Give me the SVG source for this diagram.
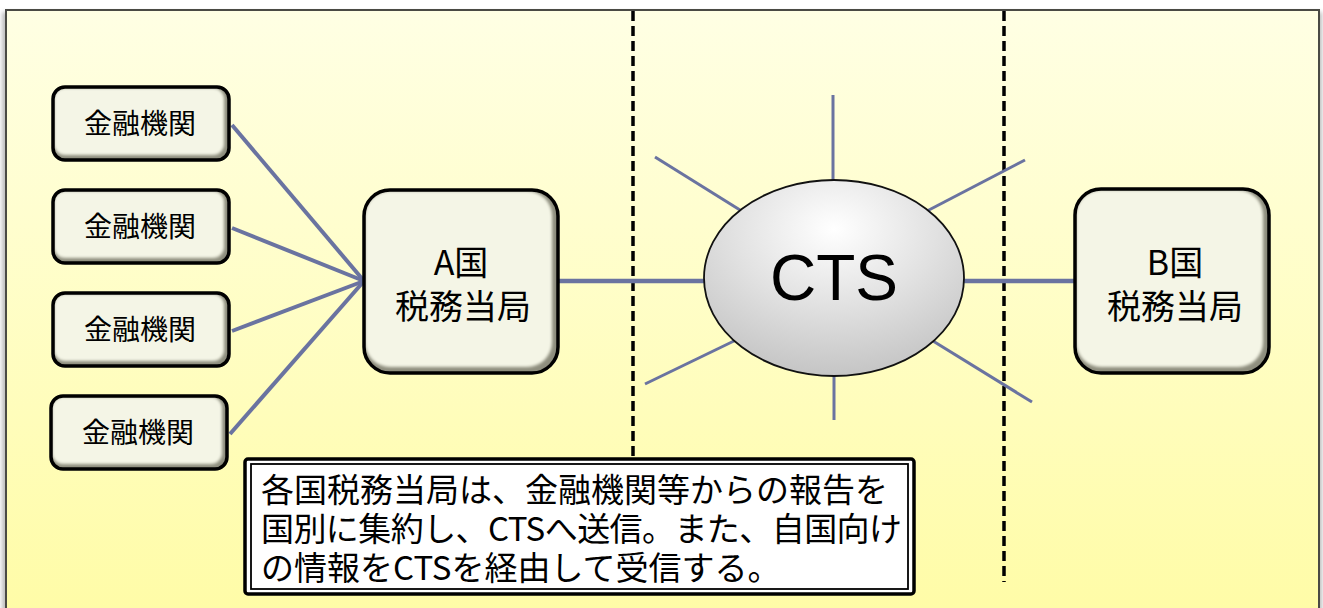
<svg xmlns="http://www.w3.org/2000/svg" width="1323" height="608" viewBox="0 0 1323 608">
  <defs>
    <linearGradient id="bg" x1="0" y1="0" x2="0" y2="1">
      <stop offset="0" stop-color="#FFFFE4"/>
      <stop offset="1" stop-color="#FFFCA6"/>
    </linearGradient>
    <radialGradient id="ell" cx="0.5" cy="0.25" r="0.85">
      <stop offset="0" stop-color="#FFFFFF"/>
      <stop offset="0.45" stop-color="#E2E2E2"/>
      <stop offset="1" stop-color="#BDBDBD"/>
    </radialGradient>
    <filter id="soft" x="-10%" y="-10%" width="120%" height="120%">
      <feGaussianBlur stdDeviation="1.6"/>
    </filter>
    <filter id="fshadow" x="-5%" y="-5%" width="110%" height="110%">
      <feGaussianBlur stdDeviation="2"/>
    </filter>
    <style>
      .box-shade { fill: #8E8E7E; }
      .box-face { fill: #F4F5E6; filter: url(#soft); }
      .box-line { fill: none; stroke: #000; stroke-width: 3.5; }
      .jp { font-family: "Noto Sans CJK JP", "Noto Sans", sans-serif; fill: #000; text-anchor: middle; }
      .conn { stroke: #6A73A0; fill: none; }
      .dash { stroke: #000; stroke-width: 3.5; stroke-dasharray: 10 5; fill: none; }
    </style>
  </defs>

  <!-- background frame -->
  <rect x="2" y="12" width="1320" height="610" fill="#BDBDBD" filter="url(#fshadow)"/>
  <rect x="6" y="10" width="1313" height="610" fill="url(#bg)" stroke="#4A4A44" stroke-width="2"/>

  <!-- dashed separators -->
  <g id="separators">
    <line class="dash" x1="633" y1="11" x2="633" y2="458"/>
    <line class="dash" x1="1004" y1="11" x2="1004" y2="582"/>
  </g>

  <!-- connectors -->
  <g id="connectors">
    <line class="conn" stroke-width="4" x1="232" y1="125" x2="364" y2="281"/>
    <line class="conn" stroke-width="4" x1="232" y1="228" x2="364" y2="281"/>
    <line class="conn" stroke-width="4" x1="232" y1="331" x2="364" y2="281"/>
    <line class="conn" stroke-width="4" x1="230" y1="434" x2="364" y2="281"/>
    <line class="conn" stroke-width="4.5" x1="558" y1="281" x2="706" y2="281"/>
    <line class="conn" stroke-width="4.5" x1="962" y1="281" x2="1075" y2="281"/>
    <line class="conn" stroke-width="3" x1="833" y1="95" x2="833" y2="180"/>
    <line class="conn" stroke-width="3" x1="834" y1="376" x2="834" y2="420"/>
    <line class="conn" stroke-width="3" x1="655" y1="157" x2="740" y2="210"/>
    <line class="conn" stroke-width="3" x1="1025" y1="160" x2="927" y2="211"/>
    <line class="conn" stroke-width="3" x1="645" y1="384" x2="736" y2="340"/>
    <line class="conn" stroke-width="3" x1="1032" y1="402" x2="933" y2="341"/>
  </g>

  <!-- financial institutions -->
  <g id="fi1">
    <rect class="box-shade" x="53" y="87" width="176" height="73" rx="12"/>
    <rect class="box-face" x="54" y="88" width="170" height="67" rx="11"/>
    <rect class="box-line" x="53" y="87" width="176" height="73" rx="12"/>
    <text class="jp" x="140" y="134" font-size="28">金融機関</text>
  </g>
  <g id="fi2">
    <rect class="box-shade" x="53" y="190" width="176" height="73" rx="12"/>
    <rect class="box-face" x="54" y="191" width="170" height="67" rx="11"/>
    <rect class="box-line" x="53" y="190" width="176" height="73" rx="12"/>
    <text class="jp" x="140" y="237" font-size="28">金融機関</text>
  </g>
  <g id="fi3">
    <rect class="box-shade" x="53" y="293" width="176" height="73" rx="12"/>
    <rect class="box-face" x="54" y="294" width="170" height="67" rx="11"/>
    <rect class="box-line" x="53" y="293" width="176" height="73" rx="12"/>
    <text class="jp" x="140" y="340" font-size="28">金融機関</text>
  </g>
  <g id="fi4">
    <rect class="box-shade" x="51" y="396" width="176" height="73" rx="12"/>
    <rect class="box-face" x="52" y="397" width="170" height="67" rx="11"/>
    <rect class="box-line" x="51" y="396" width="176" height="73" rx="12"/>
    <text class="jp" x="138" y="443" font-size="28">金融機関</text>
  </g>

  <!-- A country -->
  <g id="authA">
    <rect class="box-shade" x="364" y="190" width="194" height="183" rx="26"/>
    <rect class="box-face" x="365" y="191" width="187" height="176" rx="25"/>
    <rect class="box-line" x="364" y="190" width="194" height="183" rx="26"/>
    <text class="jp" x="461" y="275" font-size="34">A国</text>
    <text class="jp" x="463" y="319" font-size="34">税務当局</text>
  </g>

  <!-- CTS -->
  <g id="cts">
    <ellipse cx="834" cy="278" rx="130" ry="98" fill="url(#ell)" stroke="#111" stroke-width="1.8"/>
    <text x="834" y="300" font-family="Liberation Sans, Arial, sans-serif" font-size="64" text-anchor="middle" fill="#000">CTS</text>
  </g>

  <!-- B country -->
  <g id="authB">
    <rect class="box-shade" x="1075" y="189" width="194" height="184" rx="26"/>
    <rect class="box-face" x="1076" y="190" width="187" height="177" rx="25"/>
    <rect class="box-line" x="1075" y="189" width="194" height="184" rx="26"/>
    <text class="jp" x="1175" y="275" font-size="34">B国</text>
    <text class="jp" x="1175" y="319" font-size="34">税務当局</text>
  </g>

  <!-- note -->
  <g id="note">
    <rect x="245" y="459" width="669" height="135" rx="3" fill="#FFFFFF" stroke="#000" stroke-width="3.5"/>
    <rect x="251" y="464" width="657" height="125" fill="none" stroke="#000" stroke-width="1.8"/>
    <g font-family="Noto Sans CJK JP, Noto Sans, sans-serif" font-size="33" fill="#000">
      <text x="261" y="502">各国税務当局は、金融機関等からの報告を</text>
      <text x="261" y="541" textLength="641" lengthAdjust="spacing">国別に集約し、CTSへ送信。また、自国向け</text>
      <text x="261" y="580">の情報をCTSを経由して受信する。</text>
    </g>
  </g>
</svg>
